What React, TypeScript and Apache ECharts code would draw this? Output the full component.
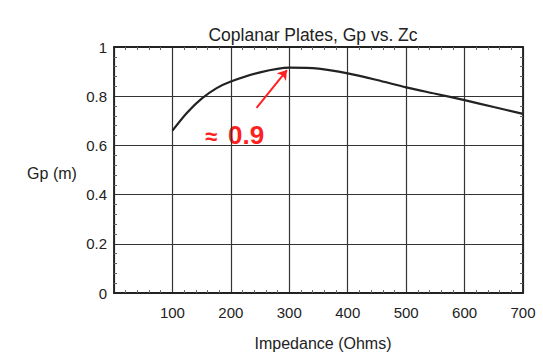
import React, { useEffect, useRef } from "react";
import * as echarts from "echarts";

const impedance = [100, 125, 150, 175, 200, 250, 300, 350, 400, 450, 500, 550, 600, 650, 700];
const gp = [0.66, 0.733, 0.79, 0.832, 0.86, 0.897, 0.916, 0.912, 0.893, 0.866, 0.836, 0.81, 0.784, 0.756, 0.728];
const xTicks = [0, 100, 200, 300, 400, 500, 600, 700];
const yTicks = [0, 0.2, 0.4, 0.6, 0.8, 1];
const titleText = "Coplanar Plates, Gp vs. Zc";
const xName = "Impedance (Ohms)";
const yName = "Gp (m)";
const arrowFrom = [244, 0.753];
const arrowTo = [296, 0.906];
const annotationSymbol = "≈";
const annotationValue = "0.9";

export default function App() {
  const ref = useRef<HTMLDivElement>(null);
  useEffect(() => {
    const chart = echarts.init(ref.current!, null, { renderer: "svg" });
    const font = "Liberation Sans, Arial, sans-serif";
    const xMin = xTicks[0];
    const xMax = xTicks[xTicks.length - 1];
    const yMin = yTicks[0];
    const yMax = yTicks[yTicks.length - 1];
    const minor = { show: true, splitNumber: 5, length: 3, lineStyle: { color: "#666", width: 1 } };
    const line = { show: true, onZero: false, lineStyle: { color: "#222", width: 1.8 } };
    chart.setOption({
      animation: false,
      backgroundColor: "#fff",
      title: {
        text: titleText,
        left: 308,
        top: 21,
        textAlign: "center",
        textStyle: { fontFamily: font, fontSize: 17.5, fontWeight: "normal", color: "#222" },
      },
      grid: { left: 114, right: 20, top: 47, bottom: 61 },
      xAxis: [
        {
          type: "value",
          min: xMin,
          max: xMax,
          interval: 100,
          axisLine: line,
          axisTick: { show: false, inside: true },
          minorTick: minor,
          axisLabel: {
            fontFamily: font,
            fontSize: 15,
            color: "#222",
            margin: 12,
            formatter: (v: number) => (v === 0 ? "" : String(v)),
          },
          splitLine: { show: true, lineStyle: { color: "#333", width: 1.2 } },
        },
        {
          type: "value",
          position: "top",
          min: xMin,
          max: xMax,
          interval: 100,
          axisLine: line,
          axisTick: { show: false, inside: true },
          minorTick: minor,
          axisLabel: { show: false },
          splitLine: { show: false },
        },
      ],
      yAxis: [
        {
          type: "value",
          min: yMin,
          max: yMax,
          interval: 0.2,
          axisLine: line,
          axisTick: { show: false, inside: true },
          minorTick: minor,
          axisLabel: {
            fontFamily: font,
            fontSize: 15,
            color: "#222",
            margin: 7,
            formatter: (v: number) => String(Math.round(v * 10) / 10),
          },
          splitLine: { show: true, lineStyle: { color: "#333", width: 1.2 } },
        },
        {
          type: "value",
          position: "right",
          min: yMin,
          max: yMax,
          interval: 0.2,
          axisLine: line,
          axisTick: { show: false, inside: true },
          minorTick: minor,
          axisLabel: { show: false },
          splitLine: { show: false },
        },
      ],
      graphic: [
        {
          type: "text",
          x: 52,
          y: 173,
          style: {
            text: yName,
            fontFamily: font,
            fontSize: 16,
            fill: "#222",
            align: "center",
            verticalAlign: "middle",
          },
        },
        {
          type: "text",
          x: 323,
          y: 343,
          style: {
            text: xName,
            fontFamily: font,
            fontSize: 16,
            fill: "#222",
            align: "center",
            verticalAlign: "middle",
          },
        },
        {
          type: "text",
          x: 205,
          y: 136,
          style: {
            text: annotationSymbol,
            fontFamily: font,
            fontSize: 22,
            fontWeight: "bold",
            fill: "#ff1f1f",
            align: "left",
            verticalAlign: "middle",
          },
        },
        {
          type: "text",
          x: 228,
          y: 135,
          style: {
            text: annotationValue,
            fontFamily: font,
            fontSize: 26,
            fontWeight: "bold",
            fill: "#ff1f1f",
            align: "left",
            verticalAlign: "middle",
          },
        },
      ],
      series: [
        {
          type: "line",
          data: impedance.map((x, i) => [x, gp[i]]),
          smooth: 0.3,
          symbol: "none",
          lineStyle: { color: "#222", width: 2.2 },
          markLine: {
            silent: true,
            symbol: ["none", "arrow"],
            symbolSize: 9,
            label: { show: false },
            lineStyle: { color: "#ff2020", width: 2, type: "solid" },
            data: [[{ coord: arrowFrom }, { coord: arrowTo }]],
          },
        },
      ],
    });
    return () => chart.dispose();
  }, []);
  return <div ref={ref} style={{ width: 543, height: 354, position: "absolute", left: 0, top: 0 }} />;
}
